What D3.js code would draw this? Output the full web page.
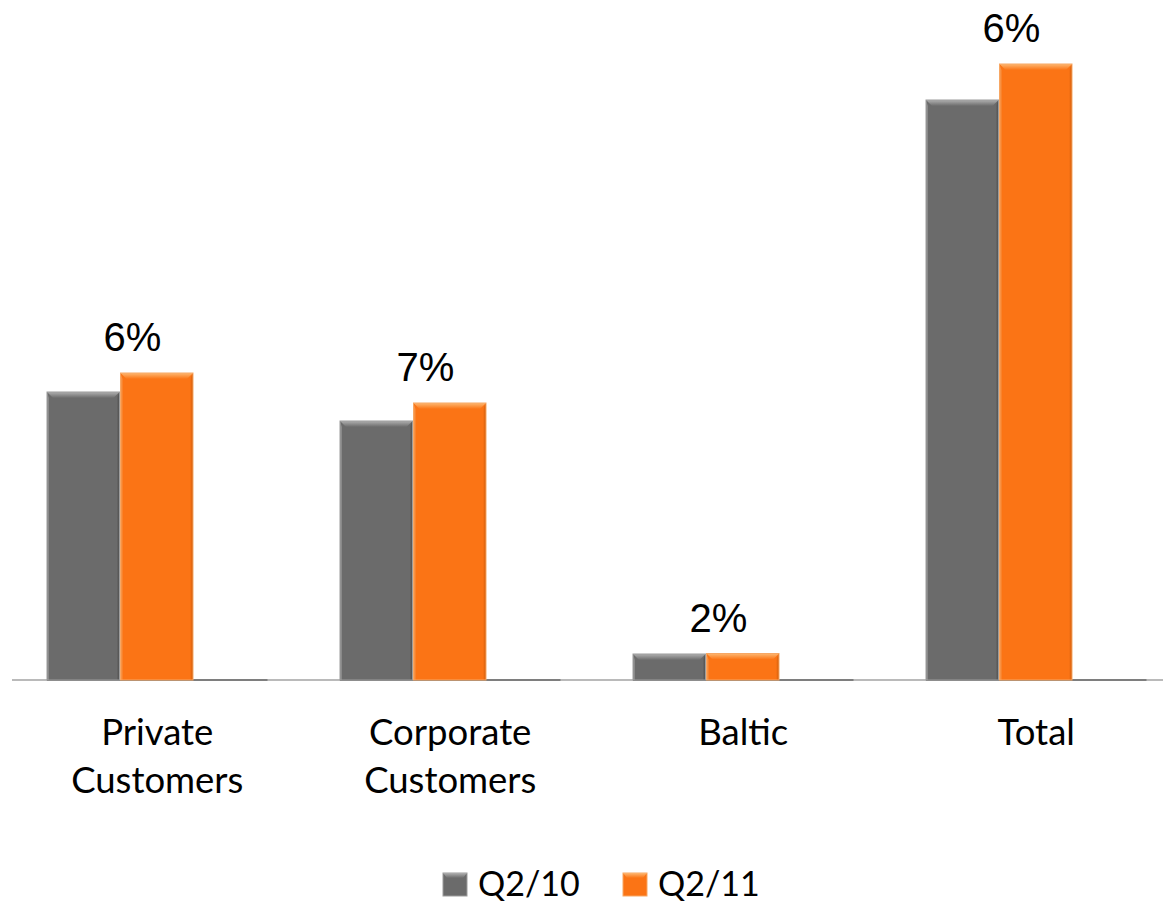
<!DOCTYPE html>
<html>
<head>
<meta charset="utf-8">
<script src="https://cdn.jsdelivr.net/npm/d3@7"></script>
<style>
  html, body { margin: 0; padding: 0; background: #fff; }
  svg { display: block; }
</style>
</head>
<body>
<svg id="chart" width="1163" height="904"></svg>
<script>
// Segment revenue, second quarter comparison
const categories = [["Private", "Customers"], ["Corporate", "Customers"], ["Baltic"], ["Total"]];
const seriesNames = ["Q2/10", "Q2/11"];
const q210 = [288, 259, 26, 580];
const q211 = [307, 277, 26.5, 616];
const growthLabels = ["6%", "7%", "2%", "6%"];

const W = 1163, H = 904;
const baseY = 680;
const svg = d3.select("#chart");
const defs = svg.append("defs");

const palette = {
  "Q2/10": { body: "#6b6b6b", light: "#b0b0b0", dark: "#4f4f4f", edge: "#9c9c9c" },
  "Q2/11": { body: "#fb7415", light: "#fdb872", dark: "#cf5c0b", edge: "#f7a764" }
};

// bevel gradients
seriesNames.forEach((s, i) => {
  const g = defs.append("linearGradient").attr("id", "top" + i)
    .attr("x1", 0).attr("y1", 0).attr("x2", 0).attr("y2", 1);
  g.append("stop").attr("offset", "0%").attr("stop-color", palette[s].light);
  g.append("stop").attr("offset", "100%").attr("stop-color", palette[s].body);
  const r = defs.append("linearGradient").attr("id", "right" + i)
    .attr("x1", 0).attr("y1", 0).attr("x2", 1).attr("y2", 0);
  r.append("stop").attr("offset", "0%").attr("stop-color", palette[s].body);
  r.append("stop").attr("offset", "100%").attr("stop-color", palette[s].dark);
});

const x0 = d3.scaleBand().domain(d3.range(categories.length)).range([10.5, 1182.5]).padding(0);
// three slots per group: two series plus an empty trailing slot
const slots = [...seriesNames, "_"];
const x1 = d3.scaleBand().domain(slots).range([36.5, 36.5 + 220.5]).padding(0);
const y = d3.scaleLinear().domain([0, 620]).range([baseY, baseY - 620]);

// axis line
svg.append("line")
  .attr("x1", 12).attr("x2", W).attr("y1", baseY).attr("y2", baseY)
  .attr("stroke", "#a3a3a3").attr("stroke-width", 1.5);

const groups = svg.selectAll("g.cat").data(categories).enter().append("g")
  .attr("class", "cat")
  .attr("transform", (d, i) => `translate(${x0(i)},0)`);

// floor of each group (empty slot included)
groups.append("line")
  .attr("x1", x1(slots[0])).attr("x2", x1(slots[2]) + x1.bandwidth())
  .attr("y1", baseY).attr("y2", baseY)
  .attr("stroke", "#6a6a6a").attr("stroke-width", 1.5);

const values = [q210, q211];
const bev = 6;
groups.each(function (d, ci) {
  const g = d3.select(this);
  seriesNames.forEach((s, si) => {
    const v = values[si][ci];
    const bx = x1(s), bw = x1.bandwidth() - 1, by = y(v), bh = baseY - y(v);
    const p = palette[s];
    const b = Math.min(bev, bh / 2);
    g.append("rect").attr("x", bx).attr("y", by).attr("width", bw).attr("height", bh)
      .attr("fill", p.body);
    // right shade
    g.append("polygon")
      .attr("points", [[bx + bw, by], [bx + bw, by + bh], [bx + bw - 3, by + bh], [bx + bw - 3, by + b]].join(" "))
      .attr("fill", `url(#right${si})`);
    // left light
    g.append("polygon")
      .attr("points", [[bx, by], [bx + 2, by + b], [bx + 2, by + bh], [bx, by + bh]].join(" "))
      .attr("fill", p.edge).attr("opacity", 0.6);
    // top bevel
    g.append("polygon")
      .attr("points", [[bx, by], [bx + bw, by], [bx + bw - b, by + b], [bx + b, by + b]].join(" "))
      .attr("fill", `url(#top${si})`);
    g.append("rect").attr("x", bx).attr("y", by).attr("width", bw).attr("height", bh)
      .attr("fill", "none").attr("stroke", p.edge).attr("stroke-width", 1);
  });

  // growth label
  const topV = Math.max(q210[ci], q211[ci]);
  g.append("text")
    .attr("x", x1(seriesNames[1]) + 12)
    .attr("y", y(topV) - 22)
    .attr("text-anchor", "middle")
    .attr("font-family", "'Liberation Sans', Arial, sans-serif")
    .attr("font-size", 40)
    .attr("fill", "#000")
    .text(growthLabels[ci]);

  // category label
  const t = g.append("text")
    .attr("text-anchor", "middle")
    .attr("font-family", "Lato, 'Open Sans', sans-serif")
    .attr("font-size", 36.5)
    .attr("fill", "#000");
  d.forEach((line, li) => {
    t.append("tspan").attr("x", x1(slots[0]) + x1.bandwidth() * 1.5).attr("y", 745 + li * 48).text(line);
  });
});

// legend
const legend = svg.append("g").attr("class", "legend");
const legX = [443, 623];
seriesNames.forEach((s, si) => {
  const p = palette[s];
  const lg = legend.append("g").attr("transform", `translate(${legX[si]},873)`);
  lg.append("rect").attr("width", 24).attr("height", 23).attr("fill", p.body).attr("stroke", p.edge);
  lg.append("polygon").attr("points", "0,0 24,0 20,5 4,5").attr("fill", `url(#top${si})`);
  lg.append("text").attr("x", 35).attr("y", 23)
    .attr("font-family", "Lato, 'Open Sans', sans-serif")
    .attr("font-size", 34).attr("fill", "#000").text(s);
});
</script>
</body>
</html>
